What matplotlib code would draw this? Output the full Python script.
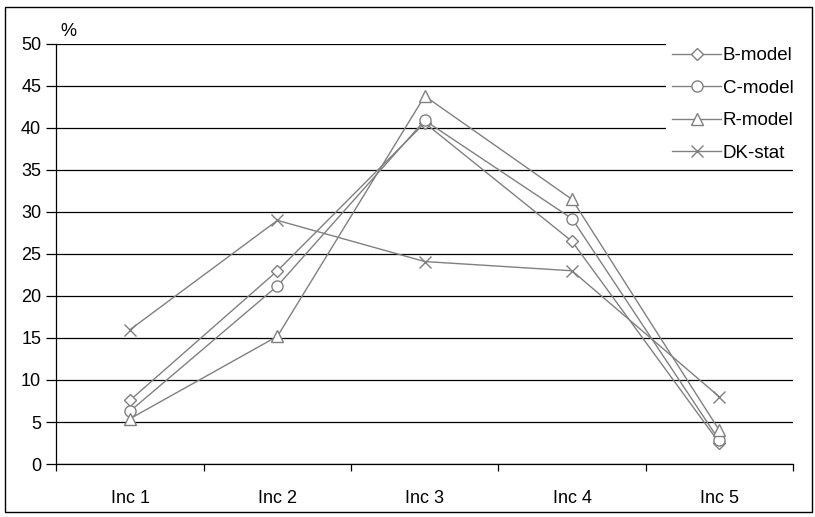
import matplotlib.pyplot as plt
from matplotlib.patches import Rectangle
import numpy as np

plt.rcParams['font.family'] = ['Liberation Sans', 'DejaVu Sans']

categories = ['Inc 1', 'Inc 2', 'Inc 3', 'Inc 4', 'Inc 5']
b_model = [7.6, 23.0, 40.6, 26.5, 2.5]
c_model = [6.3, 21.2, 40.9, 29.2, 2.8]
r_model = [5.4, 15.2, 43.8, 31.5, 4.0]
dk_stat = [16.0, 29.0, 24.1, 23.0, 8.0]

gray = '#808080'

fig = plt.figure(figsize=(8.15, 5.17), dpi=100)
ax = fig.add_axes([0.0693, 0.1025, 0.9037, 0.8125])

x = np.arange(len(categories))
ax.plot(x, b_model, color=gray, lw=1, marker='D', ms=6, mfc='white', mec=gray, label='B-model')
ax.plot(x, c_model, color=gray, lw=1, marker='o', ms=8, mfc='white', mec=gray, label='C-model')
ax.plot(x, r_model, color=gray, lw=1, marker='^', ms=8, mfc='white', mec=gray, label='R-model')
ax.plot(x, dk_stat, color=gray, lw=1, marker='x', ms=9, mew=1, label='DK-stat')

ax.set_xlim(-0.5, 4.5)
ax.set_ylim(0, 50)
ax.set_yticks(range(0, 51, 5))
ax.yaxis.grid(True, color='black', lw=0.9)
ax.set_axisbelow(True)

ax.set_xticks(x)
ax.set_xticklabels(categories)
ax.set_xticks(np.arange(-0.5, 5, 1), minor=True)
ax.tick_params(axis='x', which='major', length=0, pad=19, labelsize=13)
ax.tick_params(axis='x', which='minor', length=5, width=0.9, direction='out')
ax.tick_params(axis='y', length=7, width=0.9, labelsize=13, pad=4)

for s in ['top', 'right']:
    ax.spines[s].set_visible(False)
for s in ['left', 'bottom']:
    ax.spines[s].set_linewidth(0.9)

ax.text(0.005, 1.01, '%', transform=ax.transAxes, fontsize=13, ha='left', va='bottom')

leg = ax.legend(loc='upper left', bbox_to_anchor=(0.827, 1.008), frameon=True, fontsize=13.5,
                handlelength=2.6, labelspacing=0.82, handletextpad=0.1, borderaxespad=0,
                borderpad=0.35)
leg.get_frame().set_edgecolor('none')
leg.get_frame().set_facecolor('white')
leg.get_frame().set_alpha(1)

fig.patches.append(Rectangle((5 / 815, 5 / 517), 807 / 815, 505 / 517, transform=fig.transFigure,
                             fill=False, edgecolor='black', lw=1))

fig.savefig('out.png', dpi=100)
